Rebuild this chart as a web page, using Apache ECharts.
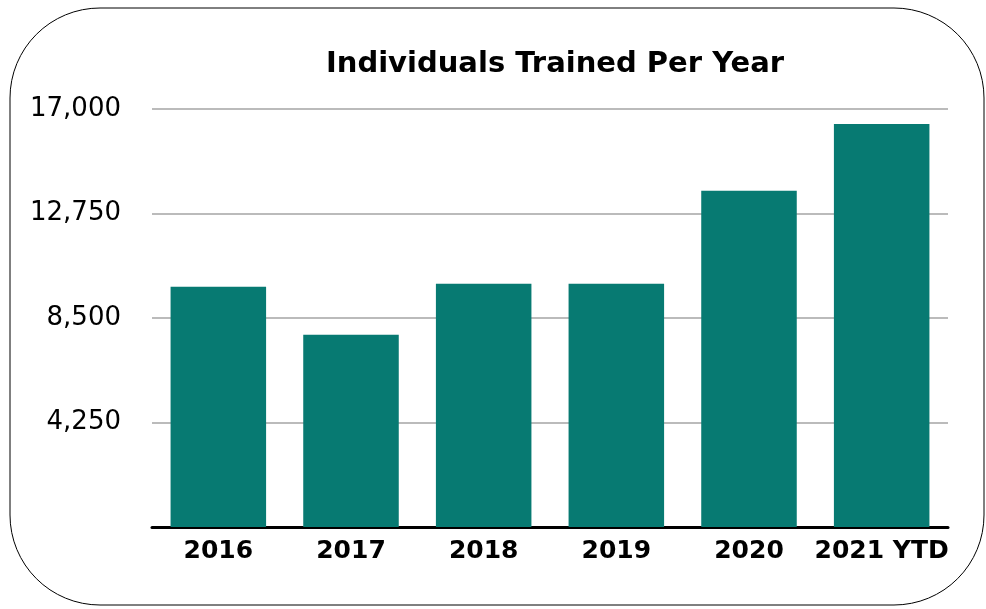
<!DOCTYPE html>
<html>
<head>
<meta charset="utf-8">
<script src="https://cdn.jsdelivr.net/npm/echarts@6/dist/echarts.min.js"></script>
<style>
  html, body { margin: 0; padding: 0; background: #fff; }
  #chart { width: 986px; height: 609px; }
</style>
</head>
<body>
<div id="chart"></div>
<script>
// data
var years = ['2016', '2017', '2018', '2019', '2020', '2021 YTD'];
var trained = [9770, 7820, 9890, 9890, 13680, 16390];
var yTicks = [4250, 8500, 12750, 17000];

var chart = echarts.init(document.getElementById('chart'), null, { renderer: 'canvas' });

var option = {
  animation: false,
  title: {
    text: 'Individuals Trained Per Year',
    left: 550,
    textAlign: 'center',
    top: 45,
    textStyle: {
      fontFamily: 'DejaVu Sans',
      fontWeight: 'bold',
      fontSize: 29,
      color: '#000'
    }
  },
  graphic: [
    {
      type: 'rect',
      shape: { x: 10, y: 8, width: 974, height: 597, r: 90 },
      style: { fill: 'none', stroke: '#000', lineWidth: 1 },
      silent: true,
      z: -1
    }
  ],
  grid: {
    left: 152,
    right: 38,
    top: 109,
    bottom: 82
  },
  xAxis: {
    type: 'category',
    data: years,
    axisLine: { lineStyle: { color: '#000', width: 3 } },
    axisTick: { show: false },
    axisLabel: {
      interval: 0,
      margin: 12,
      color: '#000',
      fontFamily: 'DejaVu Sans',
      fontWeight: 'bold',
      fontSize: 25
    }
  },
  yAxis: {
    type: 'value',
    min: 0,
    max: 17000,
    interval: 4250,
    axisLine: { show: false },
    axisTick: { show: false },
    splitLine: { lineStyle: { color: '#bbbbbb', width: 2 } },
    axisLabel: {
      margin: 31,
      color: '#000',
      fontFamily: 'DejaVu Sans',
      fontSize: 26,
      formatter: function (v) {
        if (yTicks.indexOf(v) < 0) return '';
        return v.toLocaleString('en-US');
      }
    }
  },
  series: [
    {
      type: 'bar',
      data: trained,
      barWidth: '72%',
      itemStyle: { color: '#077a72' }
    }
  ]
};

chart.setOption(option);
</script>
</body>
</html>
